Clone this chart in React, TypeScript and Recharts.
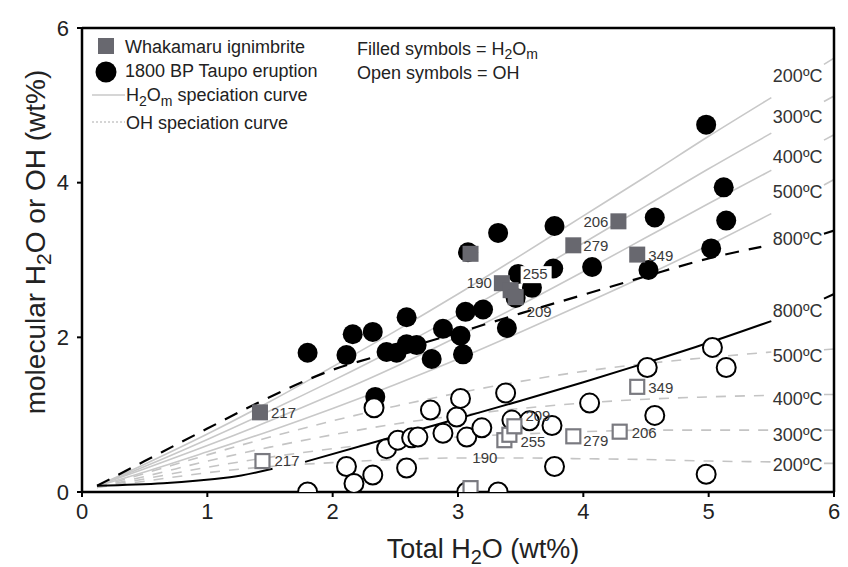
import React from "react";
import {
  ComposedChart,
  Line,
  Scatter,
  XAxis,
  YAxis,
  ReferenceDot,
} from "recharts";

const FONT = '"Liberation Sans", Arial, Helvetica, sans-serif';

// speciation curves (total H2O on x); null = gap left for the temperature labels
const curveX = [0.12, 0.5, 1, 1.5, 2, 2.5, 3, 3.5, 4, 4.5, 5, 5.5, 5.7, 5.92, 6];
const h2om200 = [0.08, 0.36, 0.75, 1.17, 1.62, 2.08, 2.56, 3.06, 3.57, 4.08, 4.6, 5.1, null, 5.53, 5.61];
const h2om300 = [0.08, 0.33, 0.68, 1.05, 1.44, 1.85, 2.29, 2.75, 3.22, 3.7, 4.18, 4.64, null, 5.05, 5.12];
const h2om400 = [0.08, 0.3, 0.6, 0.92, 1.26, 1.62, 2.01, 2.42, 2.85, 3.29, 3.73, 4.16, null, 4.55, 4.62];
const h2om500 = [0.08, 0.26, 0.52, 0.79, 1.08, 1.39, 1.72, 2.07, 2.43, 2.8, 3.19, 3.6, null, 3.97, 4.04];
const oh200 = [0.06, 0.14, 0.25, 0.33, 0.38, 0.42, 0.44, 0.44, 0.43, 0.42, 0.4, 0.39, null, 0.37, 0.37];
const oh300 = [0.06, 0.17, 0.32, 0.45, 0.56, 0.65, 0.71, 0.75, 0.78, 0.8, 0.8, 0.8, null, 0.8, 0.8];
const oh400 = [0.06, 0.2, 0.4, 0.58, 0.74, 0.88, 0.99, 1.08, 1.15, 1.2, 1.23, 1.25, null, 1.26, 1.26];
const oh500 = [0.06, 0.24, 0.48, 0.71, 0.92, 1.11, 1.28, 1.43, 1.56, 1.66, 1.74, 1.81, null, 1.84, 1.85];

const h2om800X = [0.12, 0.5, 1, 1.4, 2, 2.5, 3, 3.5, 4, 4.5, 5, 5.42, 5.7, 5.92, 6];
const h2om800 = [0.08, 0.4, 0.82, 1.15, 1.58, 1.82, 2.06, 2.31, 2.55, 2.79, 3.02, 3.17, null, 3.34, 3.38];
const oh800X = [0.12, 1.18, 1.52, 1.65, 1.78, 2.5, 3, 3.5, 4, 4.5, 5, 5.5, 5.7, 5.92, 6];
const oh800 = [0.08, 0.19, 0.3, null, 0.39, 0.72, 0.95, 1.18, 1.42, 1.67, 1.93, 2.21, null, 2.5, 2.56];

// 1800 BP Taupo eruption
const taupoH2OmX = [1.8, 2.11, 2.16, 2.32, 2.34, 2.59, 2.43, 2.51, 2.59, 2.67, 2.79, 2.88, 3.02, 3.04, 3.06, 3.2, 3.08, 3.32, 3.39, 3.46, 3.48, 3.59, 3.76, 3.77, 4.07, 4.57, 4.52, 4.98, 5.12, 5.14, 5.02];
const taupoH2OmY = [1.8, 1.77, 2.04, 2.07, 1.23, 2.26, 1.81, 1.8, 1.91, 1.9, 1.72, 2.11, 2.02, 1.78, 2.33, 2.36, 3.1, 3.35, 2.12, 2.51, 2.82, 2.64, 2.89, 3.44, 2.91, 3.55, 2.87, 4.75, 3.94, 3.51, 3.15];
const taupoOHX = [1.8, 2.11, 2.17, 2.32, 2.33, 2.43, 2.52, 2.59, 2.63, 2.68, 2.78, 2.88, 2.99, 3.02, 3.07, 3.19, 3.07, 3.32, 3.38, 3.43, 3.57, 3.75, 3.77, 4.05, 4.57, 4.51, 5.03, 5.14, 4.98];
const taupoOHY = [0.0, 0.33, 0.11, 0.22, 1.09, 0.56, 0.67, 0.31, 0.7, 0.71, 1.06, 0.76, 0.97, 1.21, 0.71, 0.83, 0.0, 0.0, 1.28, 0.93, 0.92, 0.86, 0.33, 1.15, 0.99, 1.61, 1.87, 1.61, 0.23];

// Whakamaru ignimbrite samples
const whakaIds = ["217", "", "190", "255", "209", "279", "206", "349"];
const whakaH2OmX = [1.42, 3.1, 3.35, 3.42, 3.46, 3.92, 4.28, 4.43];
const whakaH2OmY = [1.03, 3.08, 2.7, 2.61, 2.52, 3.19, 3.5, 3.07];
const whakaOHX = [1.44, 3.1, 3.37, 3.41, 3.45, 3.92, 4.29, 4.43];
const whakaOHY = [0.4, 0.05, 0.67, 0.74, 0.85, 0.72, 0.78, 1.36];

const tempNames = ["200ºC", "300ºC", "400ºC", "500ºC", "800ºC"];
const tempLabelX = 5.71;
const upperLabelY = [5.39, 4.85, 4.34, 3.88, 3.28];
const lowerLabelY = [0.35, 0.74, 1.21, 1.76, 2.34];

const zip = (xs: number[], ys: (number | null)[]) => xs.map((x, i) => ({ x, y: ys[i] }));
const samples = (xs: number[], ys: number[]) =>
  xs.map((x, i) => ({ x, y: ys[i], id: whakaIds[i] }));

// label offsets next to each square: dx, dy, anchor, white box
const filledPlace: Record<string, [number, number, string, boolean?]> = {
  "217": [11, 6, "start"],
  "190": [-10, 5, "end"],
  "255": [12, -11, "start", true],
  "209": [11, 20, "start"],
  "279": [10, 6, "start"],
  "206": [-10, 6, "end"],
  "349": [11, 6, "start"],
};
const openPlace: Record<string, [number, number, string, boolean?]> = {
  "217": [12, 5, "start"],
  "190": [-7, 23, "end"],
  "255": [11, 12, "start"],
  "209": [11, -5, "start"],
  "279": [10, 10, "start"],
  "206": [12, 6, "start"],
  "349": [11, 6, "start"],
};

const labelText = (cx: number, cy: number, id: string, place: any) => {
  if (!id || !place[id]) return null;
  const [dx, dy, anchor, box] = place[id];
  return (
    <g>
      {box && <rect x={cx + dx - 2} y={cy + dy - 13} width={31} height={17} fill="#fff" />}
      <text x={cx + dx} y={cy + dy} textAnchor={anchor} fontSize={15} fill="#3a3a3a" fontFamily={FONT}>
        {id}
      </text>
    </g>
  );
};

const FilledSquare = (p: any) => (
  <g>
    <rect x={p.cx - 8} y={p.cy - 8} width={16} height={16} fill="#68686f" />
    {labelText(p.cx, p.cy, p.payload?.id, filledPlace)}
  </g>
);
const OpenSquare = (p: any) => (
  <g>
    <rect x={p.cx - 7} y={p.cy - 7} width={14} height={14} fill="#fff" stroke="#7a7a80" strokeWidth={2.2} />
    {labelText(p.cx, p.cy, p.payload?.id, openPlace)}
  </g>
);
const FilledCircle = (p: any) => <circle cx={p.cx} cy={p.cy} r={10} fill="#000" />;
const OpenCircle = (p: any) => (
  <circle cx={p.cx} cy={p.cy} r={9.5} fill="#fff" stroke="#000" strokeWidth={2} />
);

const grayH2Om = [h2om200, h2om300, h2om400, h2om500];
const grayOH = [oh200, oh300, oh400, oh500];

const W = 840;
const H = 559;
const margin = { top: 20, right: 14, left: 0, bottom: 0 };
const yAxisW = 74;
const xAxisH = 75;
// plot box, used only for the top / right frame lines
const plotL = margin.left + yAxisW;
const plotR = W - margin.right;
const plotT = margin.top;
const plotB = H - margin.bottom - xAxisH;

const frameLine = { stroke: "#000", strokeWidth: 2.5 };

export default function App() {
  return (
    <div style={{ position: "relative", width: W, height: H, fontFamily: FONT }}>
      <ComposedChart width={W} height={H} margin={margin}>
        <XAxis
          dataKey="x"
          type="number"
          domain={[0, 6]}
          ticks={[0, 1, 2, 3, 4, 5, 6]}
          allowDataOverflow
          height={xAxisH}
          axisLine={frameLine}
          tickLine={{ stroke: "#000", strokeWidth: 2 }}
          tickSize={5}
          tickMargin={6}
          tick={{ fontSize: 22, fill: "#222", fontFamily: FONT }}
        />
        <YAxis
          dataKey="y"
          type="number"
          domain={[0, 6]}
          ticks={[0, 2, 4, 6]}
          allowDataOverflow
          width={yAxisW}
          axisLine={frameLine}
          tickLine={{ stroke: "#000", strokeWidth: 2 }}
          tickSize={5}
          tickMargin={8}
          tick={{ fontSize: 22, fill: "#222", fontFamily: FONT }}
        />

        {grayOH.map((ys, i) => (
          <Line
            key={"oh" + i}
            data={zip(curveX, ys)}
            dataKey="y"
            type="monotone"
            stroke="#c4c4c4"
            strokeWidth={1.6}
            strokeDasharray="10 9"
            dot={false}
            activeDot={false}
            connectNulls={false}
            isAnimationActive={false}
          />
        ))}
        {grayH2Om.map((ys, i) => (
          <Line
            key={"h" + i}
            data={zip(curveX, ys)}
            dataKey="y"
            type="monotone"
            stroke="#c8c8c8"
            strokeWidth={1.6}
            dot={false}
            activeDot={false}
            connectNulls={false}
            isAnimationActive={false}
          />
        ))}
        <Line
          data={zip(h2om800X, h2om800)}
          dataKey="y"
          type="monotone"
          stroke="#000"
          strokeWidth={2.2}
          strokeDasharray="14 10"
          dot={false}
          activeDot={false}
          connectNulls={false}
          isAnimationActive={false}
        />
        <Line
          data={zip(oh800X, oh800)}
          dataKey="y"
          type="monotone"
          stroke="#000"
          strokeWidth={2}
          dot={false}
          activeDot={false}
          connectNulls={false}
          isAnimationActive={false}
        />

        <Scatter data={zip(taupoH2OmX, taupoH2OmY)} shape={FilledCircle} isAnimationActive={false} />
        <Scatter data={zip(taupoOHX, taupoOHY)} shape={OpenCircle} isAnimationActive={false} />
        <Scatter data={samples(whakaH2OmX, whakaH2OmY)} shape={FilledSquare} isAnimationActive={false} />
        <Scatter data={samples(whakaOHX, whakaOHY)} shape={OpenSquare} isAnimationActive={false} />

        {tempNames.map((t, i) => (
          <ReferenceDot
            key={"u" + t}
            x={tempLabelX}
            y={upperLabelY[i]}
            r={0}
            stroke="none"
            label={{ value: t, position: "center", fontSize: 18, fill: "#333", fontFamily: FONT }}
          />
        ))}
        {tempNames.map((t, i) => (
          <ReferenceDot
            key={"l" + t}
            x={tempLabelX}
            y={lowerLabelY[i]}
            r={0}
            stroke="none"
            label={{ value: t, position: "center", fontSize: 18, fill: "#333", fontFamily: FONT }}
          />
        ))}
      </ComposedChart>

      <svg
        width={W}
        height={H}
        style={{ position: "absolute", left: 0, top: 0, pointerEvents: "none", overflow: "visible" }}
        fontFamily={FONT}
      >
        {/* top and right frame */}
        <line x1={plotL} y1={plotT} x2={plotR + 1} y2={plotT} stroke="#000" strokeWidth={2.5} />
        <line x1={plotR} y1={plotT} x2={plotR} y2={plotB} stroke="#000" strokeWidth={2.5} />
        {/* legend */}
        <rect x={90} y={30} width={16} height={16} fill="#68686f" />
        <circle cx={98} cy={64} r={10.5} fill="#000" />
        <line x1={84} y1={87} x2={117} y2={87} stroke="#c8c8c8" strokeWidth={1.6} />
        <line x1={84} y1={114} x2={117} y2={114} stroke="#c8c8c8" strokeWidth={1.6} strokeDasharray="2 2" />
        <g fontSize={18} fill="#222">
          <text x={117} y={45}>Whakamaru ignimbrite</text>
          <text x={117} y={69}>1800 BP Taupo eruption</text>
          <text x={118} y={93}>
            H<tspan dy={5} fontSize={14}>2</tspan>
            <tspan dy={-5}>O</tspan>
            <tspan dy={5} fontSize={14}>m</tspan>
            <tspan dy={-5}> speciation curve</tspan>
          </text>
          <text x={118} y={121}>OH speciation curve</text>
          <text x={349} y={47}>
            Filled symbols = H<tspan dy={4} fontSize={14}>2</tspan>
            <tspan dy={-4}>O</tspan>
            <tspan dy={4} fontSize={14}>m</tspan>
          </text>
          <text x={349} y={71}>Open symbols = OH</text>
        </g>
        {/* axis titles */}
        <text x={475} y={550} textAnchor="middle" fontSize={27} fill="#222">
          Total H<tspan dy={6} fontSize={20}>2</tspan>
          <tspan dy={-6}>O (wt%)</tspan>
        </text>
        <text
          x={0}
          y={0}
          transform="translate(37 234) rotate(-90)"
          textAnchor="middle"
          fontSize={28}
          fill="#222"
        >
          molecular H<tspan dy={6} fontSize={21}>2</tspan>
          <tspan dy={-6}>O or OH (wt%)</tspan>
        </text>
      </svg>
    </div>
  );
}
